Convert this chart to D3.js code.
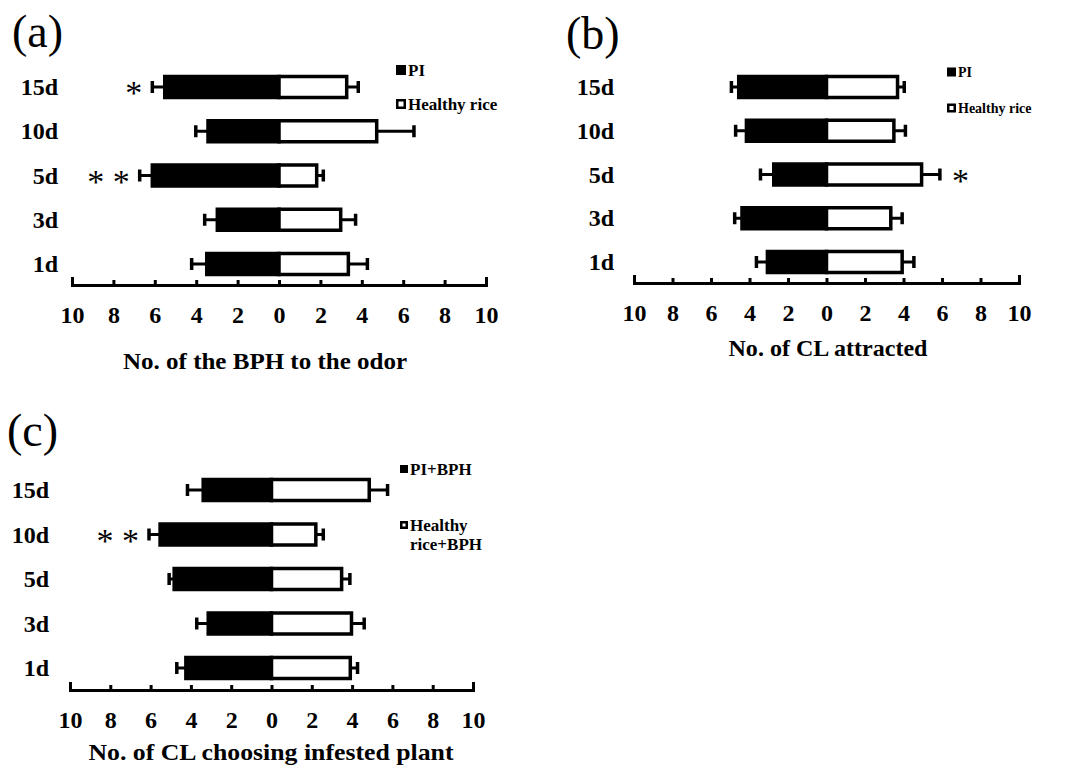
<!DOCTYPE html>
<html><head><meta charset="utf-8">
<script src="https://cdn.jsdelivr.net/npm/d3@7"></script>
<style>
body{margin:0;background:#fff;}
text{font-family:"Liberation Serif","Times New Roman",serif;}
</style></head>
<body><svg id="chart" width="1073" height="765"></svg>
<script>
const categories = ["15d","10d","5d","3d","1d"];
const tickValues = [-10,-8,-6,-4,-2,0,2,4,6,8,10];

// Panel (a): No. of the BPH to the odor
const aPI      = [5.52, 3.43, 6.12, 2.98, 3.49];
const aPIErr   = [0.60, 0.59, 0.61, 0.61, 0.73];
const aHealthy = [3.27, 4.72, 1.82, 2.98, 3.35];
const aHealthyErr = [0.56, 1.80, 0.32, 0.72, 0.92];
const aSig     = ["*", "", "* *", "", ""];

// Panel (b): No. of CL attracted
const bPI      = [4.56, 4.16, 2.74, 4.39, 3.07];
const bPIErr   = [0.38, 0.56, 0.69, 0.38, 0.57];
const bHealthy = [3.69, 3.50, 4.94, 3.34, 3.93];
const bHealthyErr = [0.35, 0.60, 0.95, 0.59, 0.61];
const bSig     = ["", "", "*", "", ""];

// Panel (c): No. of CL choosing infested plant
const cPI      = [3.39, 5.53, 4.83, 3.14, 4.25];
const cPIErr   = [0.78, 0.55, 0.25, 0.57, 0.45];
const cHealthy = [4.85, 2.20, 3.48, 3.97, 3.91];
const cHealthyErr = [0.91, 0.37, 0.41, 0.63, 0.36];
const cSig     = ["", "* *", "", "", ""];

const svg = d3.select("#chart");

function panel(o){
  const g = svg.append("g");
  const x = d3.scaleLinear().domain([-10,10]).range([o.x0,o.x1]);
  const y = d3.scalePoint().domain(categories).range([o.y0,o.y1]);
  const bh = 21;

  // panel label
  g.append("text").attr("x",o.lx).attr("y",o.ly).attr("font-size",46).text(o.label);

  // axis
  const ax = d3.axisBottom(x).tickValues(tickValues).tickFormat(d=>Math.abs(d))
    .tickSizeInner(-5).tickSizeOuter(-8).tickPadding(21);
  const axg = g.append("g").attr("transform",`translate(0,${o.axisY})`).call(ax);
  axg.select(".domain").attr("stroke","#000").attr("stroke-width",3).attr("fill","none");
  axg.selectAll(".tick line").attr("stroke","#000").attr("stroke-width",3);
  axg.selectAll(".tick text").attr("font-family","'Liberation Serif',serif")
    .attr("font-weight","bold").attr("font-size",24).attr("fill","#000");

  // category labels
  g.selectAll(".cat").data(categories).enter().append("text")
    .attr("x",o.catX).attr("y",d=>y(d)+8).attr("text-anchor","end")
    .attr("font-weight","bold").attr("font-size",24).text(d=>d);

  const rows = categories.map((c,i)=>({c, pi:o.pi[i], pe:o.pe[i], h:o.h[i], he:o.he[i], s:o.sig[i]}));

  // error bars
  rows.forEach(r=>{
    const yc = y(r.c);
    g.append("line").attr("x1",x(-r.pi)).attr("x2",x(-r.pi-r.pe)).attr("y1",yc).attr("y2",yc)
      .attr("stroke","#000").attr("stroke-width",3);
    g.append("line").attr("x1",x(-r.pi-r.pe)).attr("x2",x(-r.pi-r.pe)).attr("y1",yc-6).attr("y2",yc+6)
      .attr("stroke","#000").attr("stroke-width",3.5);
    g.append("line").attr("x1",x(r.h)).attr("x2",x(r.h+r.he)).attr("y1",yc).attr("y2",yc)
      .attr("stroke","#000").attr("stroke-width",3);
    g.append("line").attr("x1",x(r.h+r.he)).attr("x2",x(r.h+r.he)).attr("y1",yc-6).attr("y2",yc+6)
      .attr("stroke","#000").attr("stroke-width",3.5);
  });

  // bars
  g.selectAll(".pi").data(rows).enter().append("rect")
    .attr("x",d=>x(-d.pi)).attr("width",d=>x(0)-x(-d.pi))
    .attr("y",d=>y(d.c)-bh/2).attr("height",bh)
    .attr("fill","#000").attr("stroke","#000").attr("stroke-width",3.5);
  g.selectAll(".h").data(rows).enter().append("rect")
    .attr("x",x(0)).attr("width",d=>x(d.h)-x(0))
    .attr("y",d=>y(d.c)-bh/2).attr("height",bh)
    .attr("fill","#fff").attr("stroke","#000").attr("stroke-width",3.5);

  // significance stars
  rows.forEach(r=>{
    if(!r.s) return;
    const xs = o.sigSide==="left" ? x(-r.pi-r.pe)-o.sigGap : x(r.h+r.he)+o.sigGap;
    g.append("text").attr("x",xs).attr("y",y(r.c)+17)
      .attr("text-anchor", o.sigSide==="left"?"end":"start")
      .attr("font-size",34).text(r.s);
  });

  // axis title
  g.append("text").attr("x",o.titleX).attr("y",o.titleY).attr("text-anchor","middle")
    .attr("font-weight","bold").attr("font-size",24)
    .attr("textLength",o.titleW).attr("lengthAdjust","spacingAndGlyphs").text(o.title);

  // legend
  const L = o.legend;
  g.append("rect").attr("x",L.x).attr("y",L.y1-L.sq/2).attr("width",L.sq).attr("height",L.sq)
    .attr("fill","#000");
  g.append("text").attr("x",L.x+L.sq+2).attr("y",L.y1+L.fs*0.35).attr("font-weight","bold")
    .attr("font-size",L.fs).text(L.t1);
  g.append("rect").attr("x",L.x+1.25).attr("y",L.y2-L.sq/2+1.25).attr("width",L.sq-2.5).attr("height",L.sq-2.5)
    .attr("fill","#fff").attr("stroke","#000").attr("stroke-width",2.5);
  L.t2.forEach((t,i)=>{
    g.append("text").attr("x",L.x+L.sq+2+(i>0?L.indent:0)).attr("y",L.y2+L.fs*0.35+i*L.fs*1.1)
      .attr("font-weight","bold").attr("font-size",L.fs).text(t);
  });
}

panel({label:"(a)", lx:12, ly:47, x0:72, x1:486, y0:87, y1:264, axisY:285, catX:58,
  pi:aPI, pe:aPIErr, h:aHealthy, he:aHealthyErr, sig:aSig, sigSide:"left", sigGap:10,
  title:"No. of the BPH to the odor", titleX:265, titleY:369, titleW:284,
  legend:{x:396, y1:70, y2:104, sq:10, fs:17, t1:"PI", t2:["Healthy rice"], indent:0}});

panel({label:"(b)", lx:566, ly:49, x0:634, x1:1019, y0:87, y1:262, axisY:283, catX:614,
  pi:bPI, pe:bPIErr, h:bHealthy, he:bHealthyErr, sig:bSig, sigSide:"right", sigGap:12,
  title:"No. of CL attracted", titleX:828, titleY:356, titleW:199,
  legend:{x:947, y1:72, y2:108, sq:9, fs:14, t1:"PI", t2:["Healthy rice"], indent:0}});

panel({label:"(c)", lx:7, ly:446, x0:70, x1:473, y0:490, y1:668, axisY:690, catX:49,
  pi:cPI, pe:cPIErr, h:cHealthy, he:cHealthyErr, sig:cSig, sigSide:"left", sigGap:10,
  title:"No. of CL choosing infested plant", titleX:271, titleY:760, titleW:365,
  legend:{x:400, y1:469, y2:525, sq:8, fs:17, t1:"PI+BPH", t2:["Healthy","rice+BPH"], indent:0}});
</script></body></html>
